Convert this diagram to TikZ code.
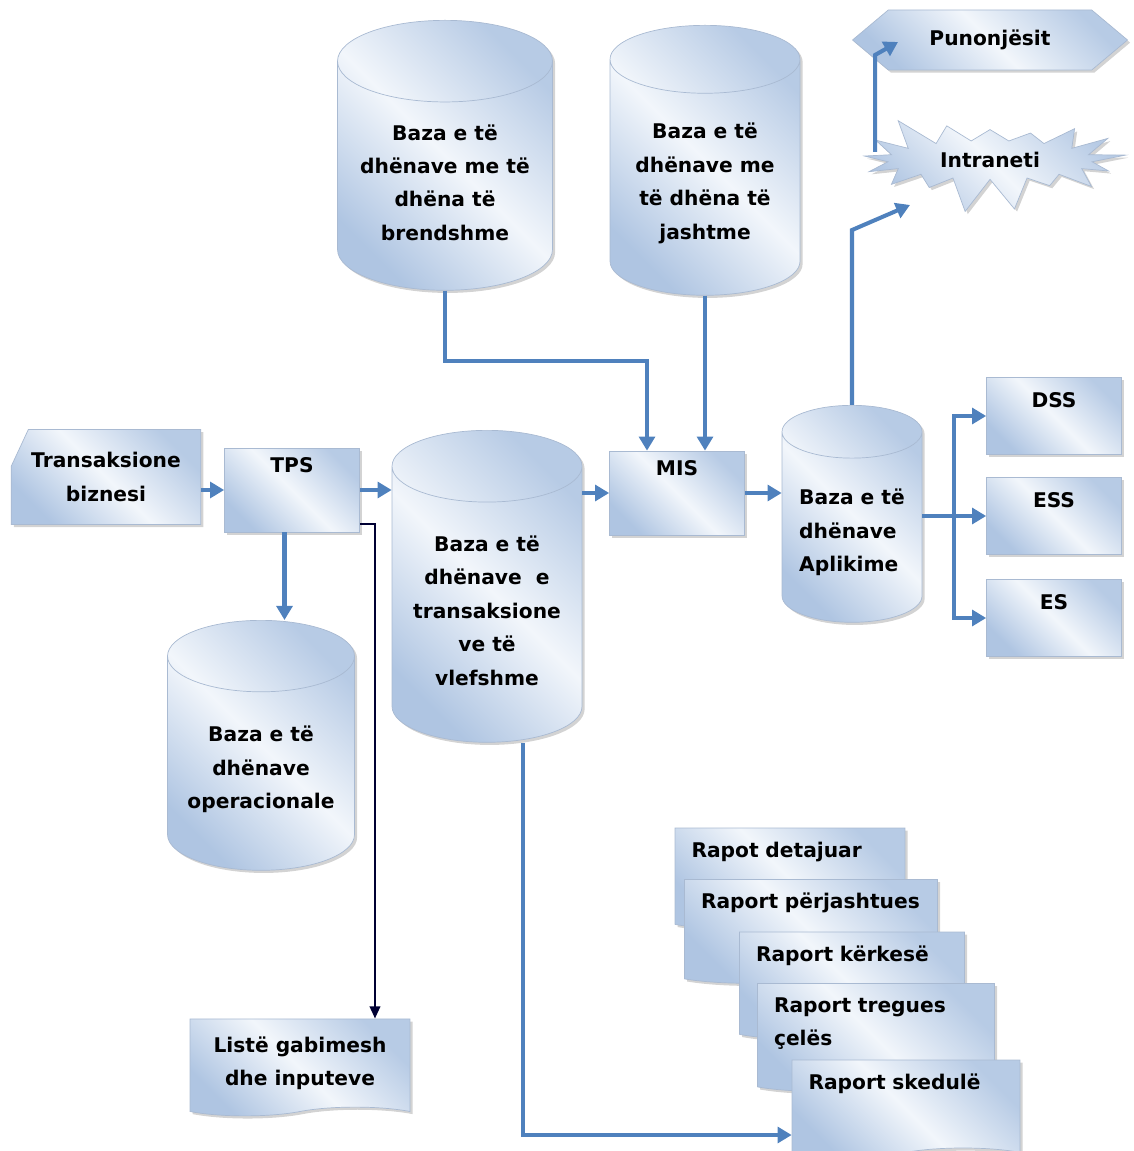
\documentclass[tikz,border=0pt]{standalone}
\usepackage{fontspec}
\setmainfont{DejaVu Sans}
\usetikzlibrary{shapes.geometric, shapes.symbols, shapes.misc, arrows.meta, shadows, calc}
\definecolor{flowblue}{HTML}{4F81BD}
\definecolor{fillblue}{HTML}{AFC5E2}
\definecolor{filllight}{HTML}{F2F6FB}
\definecolor{edgeblue}{HTML}{A9BAD2}

\begin{document}
\begin{tikzpicture}[x=0.02cm, y=-0.02cm,
    fillbox/.style={draw=edgeblue, thin, top color=fillblue, bottom color=fillblue!90, middle color=filllight, shading angle=135,
      drop shadow={shadow xshift=1.5pt, shadow yshift=-1.5pt, opacity=0.35}},
    txt/.style={font=\fontsize{11.5}{19}\selectfont\bfseries, align=center},
    box/.style={fillbox, txt, rectangle, minimum width=2.7cm},
    topbox/.style={box, text height=0.33cm, text depth=1.05cm, inner ysep=0.15cm},
    sidebox/.style={box, text height=0.45cm, text depth=0.79cm, inner ysep=0.15cm},
    db/.style={fillbox, txt, cylinder, shape border rotate=90, aspect=0.45, anchor=north},
    doc/.style={fillbox, txt, tape, tape bend top=none},
    report/.style={doc, align=left, inner xsep=0.33cm, inner ysep=0.2cm, text height=0.38cm},
    flow/.style={draw=flowblue, line width=2.3pt, -{Triangle[length=8pt,width=9pt]}},
    errflow/.style={draw=black!80!blue, line width=1.3pt, -{Triangle[length=7pt,width=6pt]}}
  ]
    \useasboundingbox (0,0) rectangle (1133,1151);

    % databases at the top
    \node[db, minimum width=4.3cm, minimum height=5.4cm] (dbint) at (445,20) {Baza e të\\dhënave me të\\dhëna të\\brendshme};
    \node[db, minimum width=3.8cm, minimum height=5.4cm] (dbext) at (705,25) {Baza e të\\dhënave me\\të dhëna të\\jashtme};

    % intranet side
    \node[fillbox, txt, signal, signal to=east and west, signal pointer angle=80,
      minimum width=5.5cm, minimum height=1.2cm] (staff) at (990,40) {Punonjësit};
    \node[fillbox, txt, starburst, random starburst=3, starburst point height=0.7cm,
      minimum width=5.5cm, minimum height=2.1cm] (intranet) at (990,160) {Intraneti};

    % main row
    \node[fillbox, txt, chamfered rectangle, chamfered rectangle corners=north west,
      chamfered rectangle angle=25, chamfered rectangle xsep=0.8cm,
      minimum width=3.76cm, minimum height=1.9cm] (trans) at (106,477) {Transaksione\\biznesi};
    \node[topbox] (tps) at (292,490) {TPS};
    \node[db, minimum width=3.8cm, minimum height=6.24cm] (dbtrans) at (487,430) {Baza e të\\dhënave\ \ e\\transaksione\\ve të\\vlefshme};
    \node[topbox] (mis) at (677,493) {MIS};
    \node[db, align=left, minimum width=2.8cm, minimum height=4.34cm] (dbapp) at (852,405) {Baza e të\\dhënave\\Aplikime};
    \node[sidebox] (dss) at (1054,416) {DSS};
    \node[sidebox] (ess) at (1054,516) {ESS};
    \node[sidebox] (es) at (1054,618) {ES};

    % lower part
    \node[db, minimum width=3.74cm, minimum height=5cm] (dbop) at (261,620) {Baza e të\\dhënave\\operacionale};
    \node[doc, minimum width=4.4cm, minimum height=1.94cm] (errlist) at (300,1063) {Listë gabimesh\\dhe inputeve};

    % reports
    \node[report, text width=3.94cm, text depth=1.06cm] (rdetail) at (790,874) {Rapot detajuar};
    \node[report, text width=4.4cm, text depth=1.12cm] (rexcept) at (811,927) {Raport përjashtues};
    \node[report, text width=3.84cm, text depth=1.18cm] (rdemand) at (852,981) {Raport kërkesë};
    \node[report, text width=4.08cm, text depth=1.2cm] (rkey) at (876,1033) {Raport tregues\\çelës};
    \node[report, text width=3.9cm, text depth=0.98cm] (rsched) at (906,1104) {Raport skedulë};

    \draw[flow] (trans.east |- tps.west) -- (tps.west);
    \draw[flow] (tps.east) -- (tps.east -| dbtrans.west);
    \draw[flow] (dbtrans.east |- mis.west) -- (mis.west);
    \draw[flow] (mis.east) -- (mis.east -| dbapp.west);
    \draw[flow] (dbint.south) -- ++(0,-1.4cm) -| ([xshift=-0.6cm]mis.north);
    \draw[flow] (dbext.south) -- (dbext.south |- mis.north);
    \draw[flow] (dbapp.north) -- ++(0,3.5cm) -- ([xshift=-1.6cm,yshift=-0.9cm]intranet.center);
    \draw[flow] ([xshift=-2.3cm,yshift=0.16cm]intranet.center) -- ++(0,1.94cm) -- ([xshift=-1.84cm,yshift=-0.04cm]staff.center);
    \coordinate (fork) at ($(dbapp.east |- ess.west)!0.5!(ess.west)$);
    \draw[flow] (dbapp.east |- ess.west) -- (ess.west);
    \draw[flow] (fork) |- (dss.west);
    \draw[flow] (fork) |- (es.west);
    \draw[flow] ([xshift=-0.15cm]tps.south) -- ([xshift=-0.15cm]tps.south |- dbop.north);
    \draw[errflow] ([yshift=0.16cm]tps.south east) -| ([xshift=1.5cm]errlist.north);
    \draw[flow] ([xshift=0.72cm]dbtrans.south) |- ([yshift=-0.62cm]rsched.west);
  \end{tikzpicture}
\end{document}
